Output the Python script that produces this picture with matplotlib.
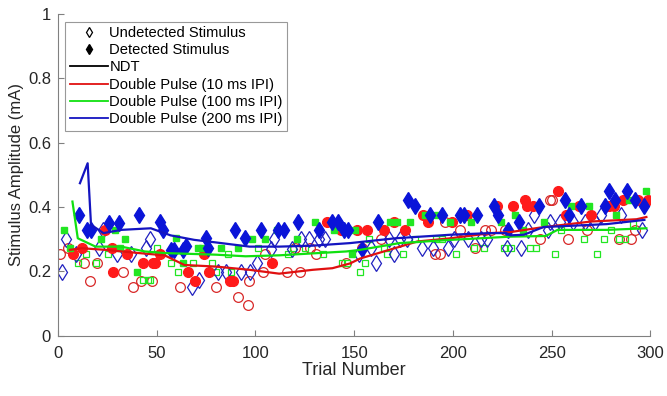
import matplotlib
matplotlib.use("Agg")
from matplotlib import pyplot as plt
from matplotlib.lines import Line2D

plt.rcParams['font.family'] = ['Liberation Sans', 'DejaVu Sans']

# 10 ms IPI (red circles)
red_det_x = [7.6, 12.3, 24, 27.5, 28, 35, 43, 48, 49, 51.7, 66, 69.4, 73.7, 76.7, 87, 88.5,
             108.6, 136, 143.4, 151.4, 156.5, 165, 170.4, 175.5, 185, 187.4, 199.5, 207,
             222.3, 230.3, 236.4, 237.6, 240.4, 253.3, 257.3, 263.7, 270, 279, 281.5, 286, 294, 299]
red_det_y = [0.255, 0.273, 0.329, 0.273, 0.197, 0.255, 0.226, 0.226, 0.226, 0.254, 0.197, 0.169, 0.254, 0.197, 0.169, 0.169,
             0.226, 0.352, 0.329, 0.329, 0.329, 0.329, 0.352, 0.329, 0.376, 0.352, 0.352, 0.376,
             0.404, 0.404, 0.422, 0.404, 0.404, 0.451, 0.376, 0.404, 0.376, 0.404, 0.404, 0.422, 0.422, 0.422]
red_und_x = [1, 5, 13.3, 16.2, 19.6, 33, 38, 42, 47.5, 62, 80, 91.4, 96, 96.5, 104, 105, 116, 120,
             122.6, 127.7, 130.6, 146, 154, 163.7, 190.7, 193.6, 196, 203.7, 211.4, 216.4, 219.5,
             226.2, 244.3, 249, 250.2, 258.3, 268, 284.3, 290, 292]
red_und_y = [0.255, 0.273, 0.226, 0.169, 0.226, 0.197, 0.153, 0.169, 0.169, 0.153, 0.153, 0.122, 0.096, 0.169, 0.197, 0.254, 0.197, 0.272,
             0.197, 0.272, 0.254, 0.226, 0.272, 0.30, 0.254, 0.254, 0.352, 0.329, 0.272, 0.329, 0.329,
             0.329, 0.30, 0.422, 0.422, 0.30, 0.329, 0.30, 0.30, 0.329]

# 100 ms IPI (green squares)
grn_det_x = [3.2, 6, 21.8, 29, 31.4, 34, 40, 60, 63.5, 71, 73, 82.5, 91, 98.5, 105, 110.8, 121, 130,
             140, 149, 150.5, 168.3, 171.6, 178.4, 186, 192, 198.7, 209.3, 221, 224.5, 231.3, 235.3,
             246, 260, 268.8, 282.6, 289, 298]
grn_det_y = [0.329, 0.273, 0.30, 0.329, 0.273, 0.30, 0.197, 0.303, 0.226, 0.273, 0.273, 0.273, 0.273, 0.30, 0.30, 0.329, 0.30, 0.352,
             0.329, 0.254, 0.329, 0.352, 0.352, 0.352, 0.376, 0.376, 0.352, 0.352, 0.404, 0.352, 0.376, 0.329,
             0.352, 0.404, 0.404, 0.376, 0.422, 0.451]
grn_und_x = [10, 14.2, 19.3, 25.3, 43, 45.6, 46.5, 50, 57, 61, 68.6, 78, 80, 86, 87.7, 101.5, 116.7,
             118.8, 125, 134, 143.8, 146.3, 153, 155.6, 157.6, 164.9, 166.6, 174.5, 180.6, 191.4,
             194.5, 201.6, 210.5, 215.6, 225.7, 229.6, 239.2, 242, 251.5, 255, 266.2, 273, 276.4,
             280.3, 284.3, 287, 291]
grn_und_y = [0.226, 0.255, 0.226, 0.255, 0.172, 0.172, 0.172, 0.273, 0.226, 0.197, 0.226, 0.226, 0.197, 0.254, 0.197, 0.272, 0.254,
             0.272, 0.272, 0.254, 0.226, 0.226, 0.197, 0.226, 0.30, 0.272, 0.254, 0.254, 0.30, 0.30,
             0.30, 0.254, 0.272, 0.272, 0.272, 0.272, 0.272, 0.272, 0.254, 0.329, 0.30, 0.254, 0.30,
             0.329, 0.30, 0.30, 0.348]

# 200 ms IPI (blue diamonds)
blu_det_x = [10.8, 14.9, 16.7, 26, 31, 41, 51.4, 53, 57, 58.5, 63.5, 65, 75, 76, 89.7, 94.8, 103,
             111.3, 114.7, 121.5, 132, 138.7, 141.7, 144.6, 147, 154, 162.3, 177.5, 180.6, 188.5,
             194.5, 203.7, 205.4, 212.2, 220.6, 223, 228, 233.3, 243.4, 256.6, 259, 265, 277,
             279.3, 282.3, 288, 292, 297]
blu_det_y = [0.376, 0.329, 0.329, 0.35, 0.35, 0.376, 0.352, 0.329, 0.267, 0.267, 0.267, 0.28, 0.303, 0.273, 0.329, 0.303, 0.329,
             0.329, 0.329, 0.352, 0.329, 0.352, 0.352, 0.329, 0.329, 0.269, 0.352, 0.422, 0.404, 0.376,
             0.376, 0.376, 0.376, 0.376, 0.404, 0.376, 0.329, 0.352, 0.404, 0.422, 0.376, 0.404, 0.404,
             0.451, 0.422, 0.451, 0.422, 0.404]
blu_und_x = [2.2, 4, 9, 21, 23, 30, 37, 44.6, 46.6, 67.8, 71.6, 81, 85, 92.6, 97, 100.7, 108, 109.6,
             118.4, 123, 127, 132, 135.3, 152.5, 158.6, 161, 167.4, 170.4, 173.3, 176.7, 184.3,
             189.7, 197.5, 200.4, 207.6, 214.4, 217.3, 227.4, 234.7, 238, 241, 248, 249.4, 254.4,
             261, 267, 272, 275, 285, 295.8]
blu_und_y = [0.197, 0.30, 0.255, 0.273, 0.33, 0.255, 0.255, 0.273, 0.30, 0.153, 0.172, 0.197, 0.197, 0.197, 0.197, 0.226, 0.269, 0.30,
             0.269, 0.30, 0.30, 0.30, 0.30, 0.254, 0.272, 0.226, 0.30, 0.254, 0.30, 0.30, 0.272,
             0.272, 0.272, 0.30, 0.30, 0.30, 0.30, 0.272, 0.272, 0.329, 0.376, 0.329, 0.352, 0.352,
             0.352, 0.352, 0.352, 0.376, 0.376, 0.329]

# threshold curves
red_line_x = [6, 12, 24, 41, 54, 64, 80, 97, 112, 129, 139, 148, 153, 165, 182, 199, 219, 229, 244, 270, 293, 298]
red_line_y = [0.267, 0.272, 0.267, 0.257, 0.25, 0.22, 0.215, 0.205, 0.193, 0.205, 0.21, 0.225, 0.24, 0.262, 0.293, 0.303, 0.319, 0.322, 0.336, 0.355, 0.362, 0.369]
grn_line_x = [7.3, 10, 19, 32, 44, 54, 80, 95, 112, 146, 153, 173, 199, 229, 247, 253, 278, 298]
grn_line_y = [0.417, 0.303, 0.277, 0.277, 0.262, 0.257, 0.252, 0.247, 0.25, 0.262, 0.267, 0.288, 0.298, 0.308, 0.31, 0.329, 0.329, 0.334]
blu_line_x = [11.1, 15, 16.7, 23, 32, 47, 57, 69, 80, 97, 112, 129, 148, 171, 199, 219, 227, 229, 236, 246, 261, 278, 297]
blu_line_y = [0.474, 0.536, 0.345, 0.319, 0.329, 0.334, 0.312, 0.298, 0.29, 0.277, 0.277, 0.28, 0.288, 0.303, 0.314, 0.319, 0.319, 0.312, 0.314, 0.338, 0.342, 0.347, 0.36]

RED = '#ff1a1a'
GRN = '#22e622'
BLU = '#0a14d8'

fig = plt.figure(figsize=(6.67, 3.96), dpi=100)
ax = fig.add_axes([0.087, 0.152, 0.888, 0.813])

ms_c, ms_s, ms_d = 7, 5, 8.5
ax.plot(red_und_x, red_und_y, 'o', ms=ms_c, mfc='none', mec='#d82828', mew=0.9)
ax.plot(grn_und_x, grn_und_y, 's', ms=ms_s, mfc='none', mec=GRN, mew=0.9)
ax.plot(blu_und_x, blu_und_y, 'd', ms=ms_d, mfc='none', mec='#2020c0', mew=0.9)
ax.plot(red_det_x, red_det_y, 'o', ms=ms_c, color=RED, mec=RED)
ax.plot(grn_det_x, grn_det_y, 's', ms=ms_s, color=GRN, mec=GRN)
ax.plot(blu_det_x, blu_det_y, 'd', ms=ms_d, color=BLU, mec=BLU)

ax.plot(red_line_x, red_line_y, color='#e01010', lw=1.6)
ax.plot(grn_line_x, grn_line_y, color='#10e010', lw=1.6)
ax.plot(blu_line_x, blu_line_y, color='#1414c0', lw=1.6)

ax.set_xlim(0, 300)
ax.set_ylim(0, 1)
ax.set_xticks([0, 50, 100, 150, 200, 250, 300])
ax.set_yticks([0, 0.2, 0.4, 0.6, 0.8, 1])
ax.set_yticklabels(['0', '0.2', '0.4', '0.6', '0.8', '1'])
for s in ['top', 'right']:
    ax.spines[s].set_visible(False)
for s in ['left', 'bottom']:
    ax.spines[s].set_color('#808080')
ax.tick_params(direction='in', length=4, color='#808080', labelcolor='#262626', labelsize=12)
ax.tick_params(axis='x', pad=7)
ax.tick_params(axis='y', pad=5)
ax.set_xlabel('Trial Number', fontsize=13, color='#262626', labelpad=1)
ax.set_ylabel('Stimulus Amplitude (mA)', fontsize=12, color='#262626', labelpad=3)

handles = [
    Line2D([], [], ls='none', marker='d', ms=5, mfc='none', mec='k', mew=0.9),
    Line2D([], [], ls='none', marker='d', ms=5, color='k'),
    Line2D([], [], color='k', lw=1.3),
    Line2D([], [], color='#e01010', lw=1.3),
    Line2D([], [], color='#10e010', lw=1.3),
    Line2D([], [], color='#1414c0', lw=1.3),
]
labels = ['Undetected Stimulus', 'Detected Stimulus', 'NDT',
          'Double Pulse (10 ms IPI)', 'Double Pulse (100 ms IPI)', 'Double Pulse (200 ms IPI)']
leg = ax.legend(handles, labels, loc='upper left', bbox_to_anchor=(0.012, 0.976), borderaxespad=0,
                fontsize=10.6, frameon=True, fancybox=False, edgecolor='#808080',
                handlelength=2.6, handletextpad=0.1, labelspacing=0.22, borderpad=0.3)
leg.get_frame().set_linewidth(0.8)

fig.savefig('out.png', dpi=100)
